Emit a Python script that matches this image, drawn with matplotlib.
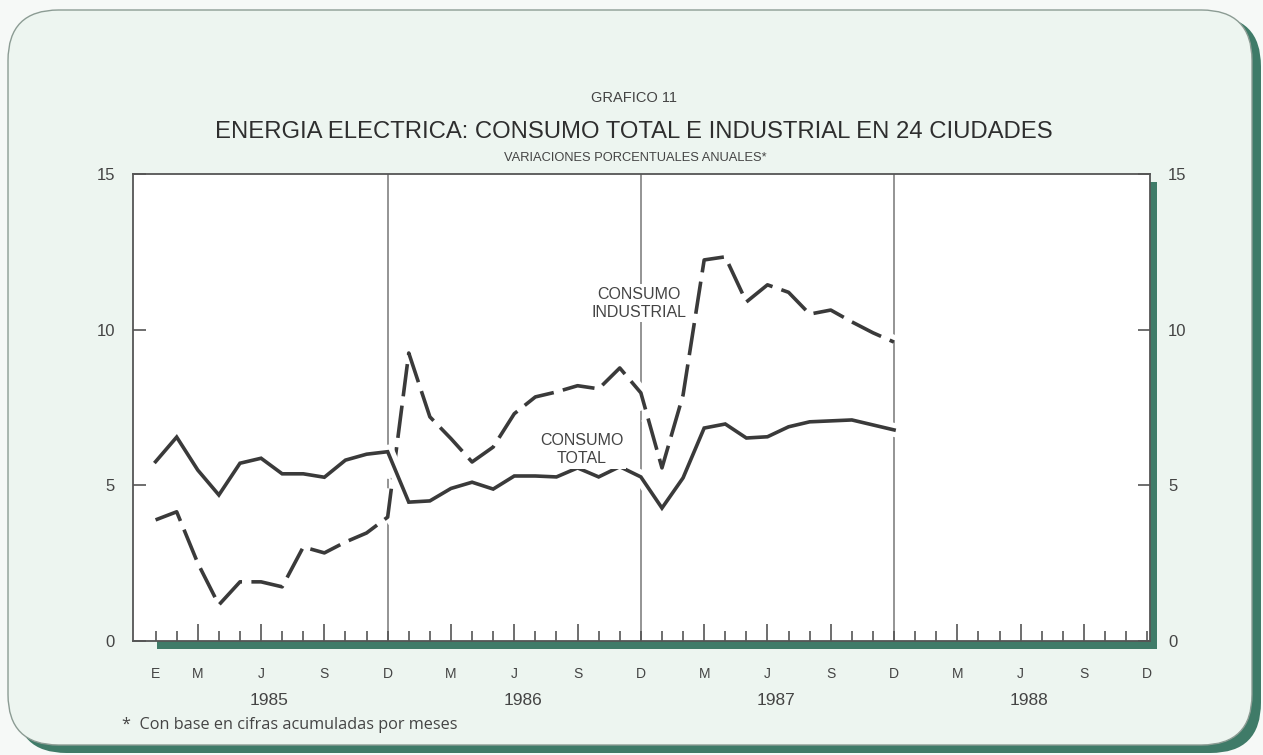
import matplotlib
matplotlib.use("Agg")
import matplotlib.pyplot as plt
import matplotlib.patheffects as pe
from matplotlib.patches import FancyBboxPatch, Rectangle

# monthly series, Jan 1985 .. Dec 1987 (annual % change)
consumo_total = [5.76, 6.55, 5.49, 4.69, 5.71, 5.87, 5.37, 5.37, 5.26, 5.81, 6.00, 6.08,
                 4.46, 4.50, 4.90, 5.10, 4.88, 5.30, 5.30, 5.27, 5.56, 5.27, 5.60, 5.27,
                 4.27, 5.24, 6.84, 6.97, 6.52, 6.56, 6.88, 7.04, 7.07, 7.10, 6.94, 6.78]
consumo_industrial = [3.89, 4.15, 2.50, 1.16, 1.90, 1.90, 1.74, 3.02, 2.83, 3.18, 3.47, 3.98,
                      9.25, 7.20, 6.50, 5.75, 6.23, 7.30, 7.84, 8.00, 8.20, 8.10, 8.77, 7.97,
                      5.56, 7.90, 12.24, 12.34, 10.89, 11.44, 11.20, 10.50, 10.63, 10.25, 9.90, 9.60]
years = ["1985", "1986", "1987", "1988"]
month_letters = ["E", "", "M", "", "", "J", "", "", "S", "", "", "D"]
y_ticks = [0, 5, 10, 15]

W, H = 1263, 755
plt.rcParams["font.family"] = ["Liberation Sans", "DejaVu Sans"]

ink = "#3a3a3a"
teal = "#3f7b68"
panel = "#edf5f0"


def fx(x):
    return x / W


def fy(y):
    return 1 - y / H


fig = plt.figure(figsize=(W / 100, H / 100), dpi=100)
fig.patch.set_facecolor("#f6f9f7")

# card with drop shadow
shadow = FancyBboxPatch((fx(16), fy(753)), fx(1261 - 16), fy(16) - fy(753),
                        boxstyle="round,pad=0,rounding_size=0.04",
                        transform=fig.transFigure, facecolor=teal, edgecolor="none",
                        mutation_aspect=W / H)
fig.patches.append(shadow)
card = FancyBboxPatch((fx(8), fy(745)), fx(1252 - 8), fy(10) - fy(745),
                      boxstyle="round,pad=0,rounding_size=0.04",
                      transform=fig.transFigure, facecolor=panel, edgecolor="#8c9c94",
                      linewidth=1.0, mutation_aspect=W / H)
fig.patches.append(card)

# plot area shadow
fig.patches.append(Rectangle((fx(157), fy(649)), fx(1157 - 157), fy(641) - fy(649),
                             transform=fig.transFigure, facecolor=teal, edgecolor="none", zorder=1))
fig.patches.append(Rectangle((fx(1150), fy(649)), fx(7), fy(182) - fy(649),
                             transform=fig.transFigure, facecolor=teal, edgecolor="none", zorder=1))

ax = fig.add_axes([fx(133), fy(641), fx(1150 - 133), fy(174) - fy(641)], zorder=2)
ax.set_facecolor("white")

months = list(range(len(consumo_total)))
n_months = 12 * len(years)

for d in range(11, n_months - 1, 12):
    ax.axvline(d, color="#777777", lw=1.1, zorder=1)

halo = [pe.withStroke(linewidth=10, foreground="white")]
ax.plot(months, consumo_industrial, color=ink, lw=2.6, linestyle=(0, (9, 2.6)),
        solid_joinstyle="miter", dash_capstyle="butt", path_effects=halo, zorder=3)
ax.plot(months, consumo_total, color=ink, lw=2.6, solid_joinstyle="miter",
        path_effects=halo, zorder=4)

ax.set_xlim(-1.07, 47.13)
ax.set_ylim(0, 15)

for s in ax.spines.values():
    s.set_color("#555555")
    s.set_linewidth(1.3)

ax.set_yticks(y_ticks)
ax.set_yticklabels([str(v) for v in y_ticks])
ax.tick_params(axis="y", direction="in", length=9, width=1.2, color="#555555",
               left=True, right=True, labelleft=True, labelright=True,
               labelsize=12, labelcolor="#444444", pad=13)

xt = list(range(n_months))
xl = [month_letters[i % 12] if not (i % 12 == 0 and i > 0) else "" for i in xt]
ax.set_xticks(xt)
ax.set_xticklabels(xl)
ax.tick_params(axis="x", direction="in", width=1.2, color="#555555",
               labelsize=10, labelcolor="#444444", pad=19)
for i, t in enumerate(ax.xaxis.get_major_ticks()):
    tall = (i % 12) in (2, 5, 8)
    t.tick1line.set_markersize(12.5 if tall else 7)
    t.tick2line.set_visible(False)

for k, yr in enumerate(years):
    ax.text(12 * k + 5.4, -0.127, yr, transform=ax.get_xaxis_transform(),
            ha="center", va="center", fontsize=12.5, color="#444444")

# labels on the curves
ax.text(22.9, 10.85, "CONSUMO\nINDUSTRIAL", ha="center", va="center", fontsize=11.5,
        color="#444444", linespacing=1.25, zorder=5,
        bbox=dict(facecolor="white", edgecolor="none", pad=2))
ax.text(20.2, 6.15, "CONSUMO\nTOTAL", ha="center", va="center", fontsize=11.5,
        color="#444444", linespacing=1.25, zorder=5,
        bbox=dict(facecolor="white", edgecolor="none", pad=2))

# titles
fig.text(fx(634), fy(98), "GRAFICO 11", ha="center", va="center", fontsize=10.5,
         color="#444444")
fig.text(fx(634), fy(132), "ENERGIA ELECTRICA: CONSUMO TOTAL E INDUSTRIAL EN 24 CIUDADES",
         ha="center", va="center", fontsize=17.2, color="#2e2e2e")
fig.text(fx(635), fy(158), "VARIACIONES PORCENTUALES ANUALES*", ha="center", va="center",
         fontsize=9.3, color="#444444")
fig.text(fx(122), fy(725), "*  Con base en cifras acumuladas por meses", ha="left",
         va="center", fontsize=11.7, color="#444444", family=["Open Sans", "DejaVu Sans"])

fig.savefig("out.png", dpi=100, facecolor=fig.get_facecolor())
